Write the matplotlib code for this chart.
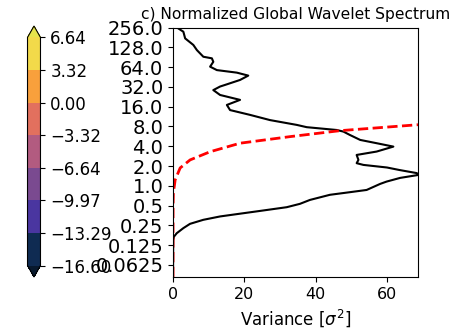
import numpy as np
import matplotlib
matplotlib.use("Agg")
from matplotlib import pyplot as plt
from matplotlib import colors as mcolors
from matplotlib import cm

# Global wavelet spectrum (period, variance)
gws_period = [256, 221, 175, 139, 116, 92, 87, 77, 65, 57.6, 52.7, 47.5, 40.8,
              35, 32.4, 28.6, 24.1, 20.3, 17, 14.2, 12.0, 10.0, 8.45, 7.8, 7.07,
              6.68, 5.94, 4.99, 4.45, 3.95, 3.32, 2.95, 2.48, 2.21, 2.08, 1.9,
              1.74, 1.56, 1.46, 1.32, 1.16, 1.07, 0.865, 0.80, 0.73, 0.61, 0.532,
              0.473, 0.415, 0.371, 0.342, 0.304, 0.264, 0.227, 0.19, 0.169,
              0.15, 0.041]
gws_power = [1.1, 2.9, 3.4, 5.7, 6.7, 8.5, 10.9, 11.3, 10.4, 12.3, 17.9, 21.1,
             18.8, 15.1, 13.2, 11.3, 13.2, 18.8, 15.1, 16.0, 21.6, 27.2, 34.7,
             37.5, 45.9, 47.8, 49.6, 52.5, 57.1, 61.8, 57.1, 51.5, 52.0, 51.5,
             53.4, 60.0, 63.5, 68.4, 68.7, 63.7, 59.9, 58.1, 54.3, 49.6, 44.0,
             38.4, 35.6, 31.9, 24.4, 17.9, 13.2, 8.5, 4.77, 2.89, 1.04, 0.28,
             0.05, 0.0]

# Significance level
sig_period = [0.041, 0.5, 0.78, 1.23, 1.87, 2.48, 3.3, 4.45, 5.6, 6.9, 8.5]
sig_power = [0.0, 0.02, 0.1, 0.6, 2.0, 4.8, 10.4, 18.8, 32.8, 46.8, 68.7]

period_ticks = [256, 128, 64, 32, 16, 8, 4, 2, 1, 0.5, 0.25, 0.125, 0.0625]
period_labels = ["256.0", "128.0", "64.0", "32.0", "16.0", "8.0", "4.0", "2.0",
                 "1.0", "0.5", "0.25", "0.125", "0.0625"]

levels = [-16.60, -13.29, -9.97, -6.64, -3.32, 0.00, 3.32, 6.64]
level_colors = ["#0f2b52", "#4a36a0", "#7a4a90", "#b25b80", "#e2705e",
                "#f8a03c", "#f2da4a"]
under_color = "#08192e"
over_color = "#e6e44c"

fig = plt.figure(figsize=(4.57, 3.30), dpi=100)

ax = fig.add_axes([0.3786, 0.1606, 0.536, 0.756])
ax.plot(gws_power, gws_period, color="k", lw=1.5)
ax.plot(sig_power, sig_period, color="red", lw=2, ls="--")
ax.set_yscale("log", base=2)
ax.set_ylim(0.041, 256)
ax.set_xlim(0, 68.7)
ax.set_yticks(period_ticks)
ax.set_yticklabels(period_labels)
ax.yaxis.set_minor_locator(matplotlib.ticker.NullLocator())
ax.set_xticks([0, 20, 40, 60])
ax.tick_params(axis="y", labelsize=14)
ax.tick_params(axis="x", labelsize=11.5)
ax.set_title("c) Normalized Global Wavelet Spectrum", fontsize=11.2)
ax.set_xlabel(r"Variance [$\sigma^2$]", fontsize=12)

cmap = mcolors.ListedColormap(level_colors)
cmap.set_under(under_color)
cmap.set_over(over_color)
norm = mcolors.BoundaryNorm(levels, cmap.N)
cax = fig.add_axes([0.0602, 0.1606, 0.0284, 0.7606])
cb = fig.colorbar(cm.ScalarMappable(norm=norm, cmap=cmap), cax=cax,
                  extend="both", ticks=levels)
cb.ax.set_yticklabels([("%.2f" % v).replace("-", "\u2212") for v in levels])
cb.ax.tick_params(labelsize=12)

fig.savefig("out.png", dpi=100)
